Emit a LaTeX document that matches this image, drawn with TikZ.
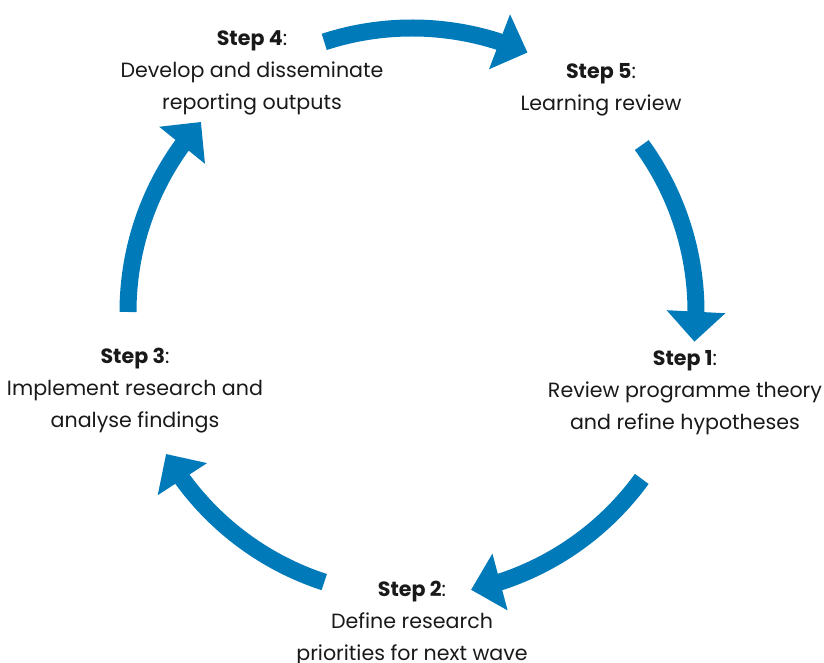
\documentclass[tikz,border=0pt]{standalone}
\usepackage{fontspec}
\setmainfont{Poppins}
\usetikzlibrary{arrows.meta,bending}

\definecolor{cycleblue}{RGB}{0,122,184}

\tikzset{
  cyclearrow/.style={draw=cycleblue, line width=17bp,
    -{Triangle[length=30bp, width=57bp, flex]}},
  steptext/.style={align=center, font=\fontsize{20.6bp}{32bp}\selectfont,
    inner sep=0pt, text=black!90}
}

\begin{document}
\begin{tikzpicture}[x=1bp, y=1bp]
  \useasboundingbox (0,0) rectangle (824,663);

  % centre of the cycle
  \coordinate (centre) at (412, 351);

  % Steps round the cycle
  \node[steptext] (step1) at (685, 270) {\textbf{Step 1}:\\Review programme theory\\and refine hypotheses};
  \node[steptext] (step2) at (412, 40) {\textbf{Step 2}:\\Define research\\priorities for next wave};
  \node[steptext] (step3) at (135, 272) {\textbf{Step 3}:\\Implement research and\\analyse findings};
  \node[steptext] (step4) at (252, 590) {\textbf{Step 4}:\\Develop and disseminate\\reporting outputs};
  \node[steptext] (step5) at (601, 573) {\textbf{Step 5}:\\Learning review};

  % Arrows, one between each pair of steps
  \draw[cyclearrow] (centre) ++(36:284) arc[start angle=36, end angle=-6, radius=284];
  \draw[cyclearrow] (centre) ++(-36:284) arc[start angle=-36, end angle=-78, radius=284];
  \draw[cyclearrow] (centre) ++(-108:284) arc[start angle=-108, end angle=-150, radius=284];
  \draw[cyclearrow] (centre) ++(180:284) arc[start angle=180, end angle=138, radius=284];
  \draw[cyclearrow] (centre) ++(108:284) arc[start angle=108, end angle=66, radius=284];
\end{tikzpicture}
\end{document}
